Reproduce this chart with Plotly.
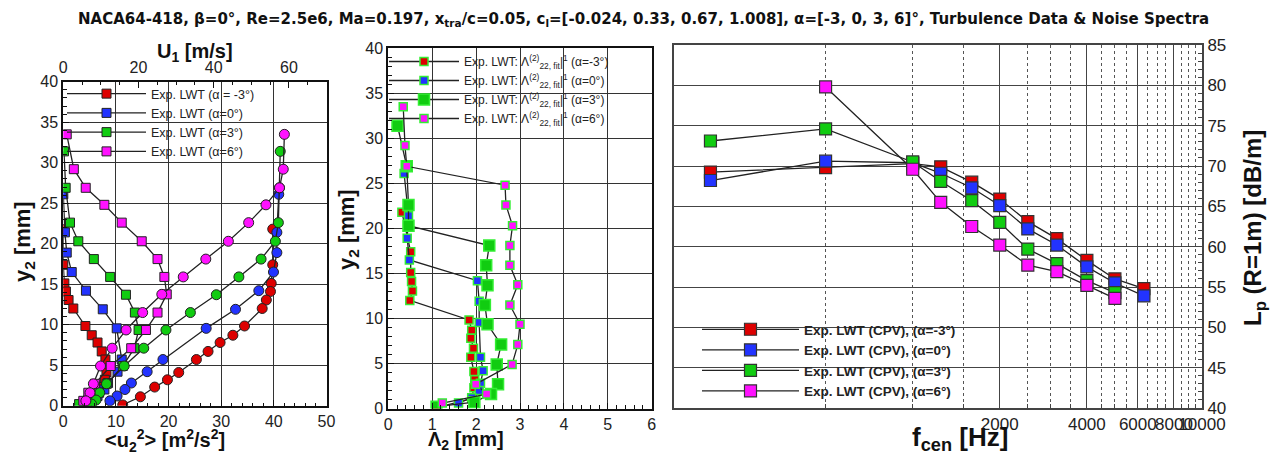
import math
import plotly.graph_objects as go

# ---------------- data ----------------
alphas = ["-3", "0", "3", "6"]
colors = ["#dd0000", "#2233ff", "#11cc11", "#ff11ff"]

# left + middle panel: wall-normal positions y2 [mm]
y2_m3 = [21.8, 17.4, 15.1, 14.1, 13.05, 12.0, 9.84, 8.7, 7.8, 6.7, 5.7, 4.1, 3.2, 2.3, 1.1, 0.1]
y2_0 = [26.1, 21.4, 18.9, 16.5, 14.2, 11.9, 9.55, 5.7, 4.2, 2.8, 2.0, 1.2, 0.6]
y2_3 = [31.4, 26.9, 22.6, 20.3, 18.1, 15.9, 13.7, 11.5, 9.35, 7.1, 4.9, 2.7, 1.6, 0.7, 0.2]
y2_6 = [33.5, 29.2, 26.9, 24.8, 22.6, 20.3, 18.1, 15.9, 13.75, 11.5, 9.35, 7.1, 4.9, 2.7, 1.6, 0.6]

# <u2^2> [m^2/s^2]
u22_m3 = [0.0, 0.0, 0.2, 0.5, 1.0, 1.9, 4.2, 5.4, 6.5, 7.3, 8.0, 8.2, 7.9, 7.3, 6.0, 4.5]
u22_0 = [0.0, 0.3, 0.65, 1.6, 4.3, 7.5, 10.15, 11.1, 10.3, 8.5, 7.8, 6.5, 5.3]
u22_3 = [0.13, 0.45, 1.27, 2.85, 5.8, 8.9, 11.9, 13.6, 14.3, 13.5, 11.3, 8.25, 6.8, 4.75, 3.0]
u22_6 = [0.65, 2.0, 4.26, 7.8, 11.1, 14.9, 17.9, 19.2, 19.65, 17.9, 15.7, 12.9, 9.0, 6.0, 4.75, 3.8]

# U1 [m/s]
U1_m3 = [55.7, 55.7, 55.3, 55.1, 54.0, 52.9, 48.2, 45.1, 41.7, 38.5, 35.4, 30.7, 27.7, 24.3, 20.5, 15.8]
U1_0 = [57.3, 56.8, 56.8, 55.9, 52.0, 45.8, 38.0, 26.5, 22.3, 18.1, 16.4, 14.3, 12.4]
U1_3 = [57.7, 57.5, 57.2, 56.4, 52.6, 46.7, 40.7, 33.8, 27.3, 21.4, 16.2, 11.5, 9.7, 8.7, 7.5]
U1_6 = [58.8, 58.5, 57.5, 53.9, 49.3, 43.9, 37.9, 31.9, 26.2, 21.1, 16.7, 13.0, 9.9, 8.0, 7.1, 6.0]

# Lambda2 [mm]
lam_m3 = [0.31, 0.51, 0.51, 0.53, 0.55, 0.49, 1.84, 1.9, 1.88, 1.94, 1.88, 1.95, 1.97, 1.95, 1.9, 1.1]
lam_0 = [0.36, 0.46, 0.43, 0.48, 2.03, 2.07, 2.07, 2.1, 2.16, 2.1, 2.07, 1.9, 1.6]
lam_3 = [0.21, 0.42, 0.46, 0.46, 2.3, 2.23, 2.26, 2.2, 2.26, 2.57, 2.47, 2.5, 2.34, 1.96, 1.1]
lam_6 = [0.34, 0.38, 0.42, 2.66, 2.68, 2.83, 2.77, 2.77, 2.95, 2.77, 3.0, 2.95, 2.82, 1.99, 2.24, 1.23]

# right panel: 1/3-octave spectra
f_m3 = [200, 500, 1000, 1250, 1600, 2000, 2500, 3150, 4000, 5000, 6300]
Lp_m3 = [69.25, 69.8, 70.3, 69.9, 68.0, 65.9, 63.1, 61.0, 58.3, 56.0, 54.8]
f_0 = [200, 500, 1000, 1250, 1600, 2000, 2500, 3150, 4000, 5000, 6300]
Lp_0 = [68.2, 70.6, 70.4, 69.1, 67.3, 65.1, 62.2, 60.2, 57.5, 55.5, 53.9]
f_3 = [200, 500, 1000, 1250, 1600, 2000, 2500, 3150, 4000, 5000]
Lp_3 = [73.1, 74.6, 70.5, 68.1, 65.7, 63.0, 59.7, 57.9, 55.8, 54.3]
f_6 = [500, 1000, 1250, 1600, 2000, 2500, 3150, 4000, 5000]
Lp_6 = [79.8, 69.6, 65.5, 62.5, 60.2, 57.7, 56.9, 55.2, 53.6]

f_major = [2000, 4000, 6000, 8000, 10000]
f_major_text = ["2000", "4000", "6000", "8000", "10000"]
f_minor = [500, 1000, 1500, 2500, 3000, 3500, 4500, 5000, 5500, 6500, 7000, 7500, 8500, 9000, 9500]

left_names = ["Exp. LWT (α = -3°)", "Exp. LWT (α=0°)", "Exp. LWT (α=3°)", "Exp. LWT (α=6°)"]
mid_names = ["Exp. LWT: Λ<sup>(2)</sup><sub>22, fit</sub>|<sup>1</sup> (α=%s°)" % a for a in alphas]
right_names = ["Exp. LWT (CPV), (α=%s°)" % a for a in alphas]

title_text = ("NACA64-418, β=0°, Re=2.5e6, Ma=0.197, x<sub>tra</sub>/c=0.05, "
              "c<sub>l</sub>=[-0.024, 0.33, 0.67, 1.008], α=[-3, 0, 3, 6]°, "
              "Turbulence Data &amp; Noise Spectra")

# ---------------- figure ----------------
# the page body has an 8 px margin, so the figure is 8 px smaller and all
# reference pixel positions are shifted by 8 px
OFF = 8
W, H = 1288 - OFF, 461 - OFF
FONT = "Liberation Sans, Arial, sans-serif"
LINE = dict(color="#222222", width=1.3)

fig = go.Figure()

y2s = [y2_m3, y2_0, y2_3, y2_6]
u22s = [u22_m3, u22_0, u22_3, u22_6]
U1s = [U1_m3, U1_0, U1_3, U1_6]
lams = [lam_m3, lam_0, lam_3, lam_6]
fs = [f_m3, f_0, f_3, f_6]
Lps = [Lp_m3, Lp_0, Lp_3, Lp_6]

for i in range(4):
    fig.add_trace(go.Scatter(
        x=u22s[i], y=y2s[i], mode="lines+markers", name=left_names[i],
        line=LINE, xaxis="x", yaxis="y", legend="legend",
        marker=dict(symbol="square", size=9, color=colors[i],
                    line=dict(color="#222", width=1))))
for i in range(4):
    fig.add_trace(go.Scatter(
        x=U1s[i], y=y2s[i], mode="lines+markers", showlegend=False,
        line=LINE, xaxis="x2", yaxis="y",
        marker=dict(symbol="circle", size=10, color=colors[i],
                    line=dict(color="#222", width=1))))
for i in range(4):
    fig.add_trace(go.Scatter(
        x=lams[i], y=y2s[i], mode="lines+markers", name=mid_names[i],
        line=LINE, xaxis="x3", yaxis="y2", legend="legend2",
        marker=dict(symbol="square", size=11 if i == 2 else 8, color=colors[i],
                    line=dict(color="#33ee33", width=1.5))))
for i in range(4):
    fig.add_trace(go.Scatter(
        x=fs[i], y=Lps[i], mode="lines+markers", name=right_names[i],
        line=LINE, xaxis="x4", yaxis="y3", legend="legend3",
        marker=dict(symbol="square", size=12, color=colors[i],
                    line=dict(color="#333", width=1.2))))


def px_x(x):
    return (x - OFF) / W


def px_y(y):
    return 1 - (y - OFF) / H


tickfont = dict(family=FONT, size=16, color="#222")
grid = dict(showgrid=True, gridcolor="#333333", gridwidth=1.3, zeroline=False,
            showline=True, linecolor="#111", linewidth=2, mirror=True, automargin=False,
            ticks="inside", ticklen=6, tickcolor="#111", tickfont=tickfont, tickangle=0)

fig.update_layout(
    width=W, height=H, margin=dict(l=0, r=0, t=0, b=0, autoexpand=False),
    paper_bgcolor="white", plot_bgcolor="white", showlegend=True,
    font=dict(family=FONT, color="#222"),
    xaxis=dict(domain=[px_x(63.3), px_x(326.5)], range=[0, 50], dtick=10, anchor="y",
               minor=dict(dtick=2, ticks="inside", ticklen=3, tickcolor="#111"), **grid),
    xaxis2=dict(overlaying="x", side="top", anchor="y", range=[0, 70], dtick=20,
                showgrid=False, zeroline=False, showline=True, linecolor="#111", linewidth=2,
                automargin=False, tickangle=0,
                ticks="inside", ticklen=6, tickcolor="#111", tickfont=tickfont,
                minor=dict(dtick=5, ticks="inside", ticklen=3, tickcolor="#111")),
    yaxis=dict(domain=[px_y(405.7), px_y(81.7)], range=[0, 40], dtick=5, anchor="x",
               minor=dict(dtick=1, ticks="inside", ticklen=4, tickcolor="#111"), **grid),
    xaxis3=dict(domain=[px_x(388.3), px_x(651.7)], range=[0, 6], dtick=1, anchor="y2",
                minor=dict(dtick=0.2, ticks="inside", ticklen=4, tickcolor="#111"), **grid),
    yaxis2=dict(domain=[px_y(408.5), px_y(48.3)], range=[0, 40], dtick=5, anchor="x3",
                minor=dict(dtick=1, ticks="inside", ticklen=4, tickcolor="#111"), **grid),
    xaxis4=dict(domain=[px_x(674.3), px_x(1202)], type="log",
                range=[math.log10(150), 4], anchor="y3", automargin=False, tickangle=0,
                tickmode="array", tickvals=f_major, ticktext=f_major_text,
                showgrid=True, gridcolor="#444", gridwidth=1.3, zeroline=False,
                showline=True, linecolor="#444", linewidth=2, mirror=True,
                ticks="inside", ticklen=6, tickcolor="#444",
                tickfont=dict(family=FONT, size=17, color="#222"),
                minor=dict(tickmode="array", tickvals=f_minor, showgrid=True,
                           gridcolor="#555", griddash="dot", gridwidth=1,
                           ticks="inside", ticklen=4, tickcolor="#444")),
    yaxis3=dict(domain=[px_y(408), px_y(45)], range=[40, 85], dtick=5, anchor="x4",
                side="right", showgrid=True, gridcolor="#444", gridwidth=1.3, zeroline=False,
                showline=True, linecolor="#444", linewidth=2, mirror=True, automargin=False,
                ticks="inside", ticklen=6, tickcolor="#444",
                tickfont=dict(family=FONT, size=17, color="#222"),
                minor=dict(dtick=1, ticks="inside", ticklen=4, tickcolor="#444")),
    legend=dict(x=px_x(62), y=px_y(79), xanchor="left", yanchor="top",
                bgcolor="rgba(0,0,0,0)", itemwidth=79, tracegroupgap=0,
                font=dict(family=FONT, size=12.5, color="#222")),
    legend2=dict(x=px_x(384), y=px_y(47), xanchor="left", yanchor="top",
                 bgcolor="rgba(0,0,0,0)", itemwidth=70, tracegroupgap=0,
                 font=dict(family=FONT, size=12, color="#222")),
    legend3=dict(x=px_x(697), y=px_y(314), xanchor="left", yanchor="top",
                 bgcolor="rgba(0,0,0,0)", itemwidth=97, tracegroupgap=0,
                 font=dict(family=FONT, size=13.5, color="#222", weight="bold")),
)

ann = [
    dict(text="<b>" + title_text + "</b>", x=px_x(643), y=px_y(19), size=15, angle=0,
         family="DejaVu Sans, Liberation Sans, sans-serif"),
    dict(text="<b>U<sub>1</sub> [m/s]</b>", x=px_x(195), y=px_y(52), size=20, angle=0),
    dict(text="<b>y<sub>2</sub> [mm]</b>", x=px_x(24), y=px_y(242), size=22, angle=-90),
    dict(text="<b>&lt;u<sub>2</sub><sup>2</sup>&gt; [m<sup>2</sup>/s<sup>2</sup>]</b>",
         x=px_x(165), y=px_y(440), size=20, angle=0),
    dict(text="<b>y<sub>2</sub> [mm]</b>", x=px_x(348), y=px_y(230), size=22, angle=-90),
    dict(text="<b>Λ<sub>2</sub> [mm]</b>", x=px_x(466), y=px_y(440), size=20, angle=0),
    dict(text="<b>f<sub>cen</sub> [Hz]</b>", x=px_x(960), y=px_y(438), size=26, angle=0),
    dict(text="<b>L<sub>p</sub> (R=1m) [dB/m]</b>", x=px_x(1254), y=px_y(228), size=24, angle=-90),
]
for a in ann:
    fig.add_annotation(text=a["text"], x=a["x"], y=a["y"], xref="paper", yref="paper",
                       showarrow=False, textangle=a["angle"], xanchor="center", yanchor="middle",
                       font=dict(family=a.get("family", FONT), size=a["size"], color="#111"))

fig.write_html("out.html")
